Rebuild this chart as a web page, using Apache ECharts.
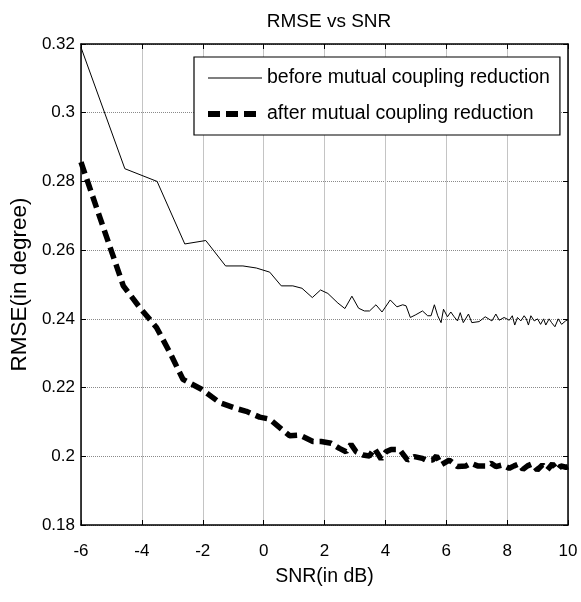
<!DOCTYPE html>
<html>
<head>
<meta charset="utf-8">
<script src="https://cdn.jsdelivr.net/npm/echarts@6/dist/echarts.min.js"></script>
<style>
html,body{margin:0;padding:0;background:#fff;}
#chart{width:581px;height:602px;}
</style>
</head>
<body>
<div id="chart"></div>
<script>
var titleText = 'RMSE vs SNR';
var xName = 'SNR(in dB)';
var yName = 'RMSE(in degree)';
var seriesNames = ['before mutual coupling reduction', 'after mutual coupling reduction'];

var beforeX = [-6, -4.56, -3.5, -2.59, -1.9, -1.25, -0.68, -0.24, 0.2, 0.58, 0.96, 1.26, 1.6, 1.87, 2.11, 2.44, 2.67, 2.9, 3.12, 3.31, 3.48, 3.69, 3.89, 4.16, 4.38, 4.57, 4.68, 4.82, 5.0, 5.22, 5.39, 5.5, 5.61, 5.72, 5.83, 5.91, 6.04, 6.15, 6.26, 6.37, 6.46, 6.56, 6.73, 6.84, 7.08, 7.28, 7.5, 7.63, 7.74, 7.9, 8.07, 8.17, 8.25, 8.34, 8.45, 8.56, 8.63, 8.7, 8.78, 8.89, 9.0, 9.1, 9.2, 9.27, 9.38, 9.46, 9.57, 9.68, 9.79, 9.92, 10];
var beforeY = [0.319, 0.2837, 0.280, 0.2618, 0.2628, 0.2554, 0.2554, 0.2548, 0.2536, 0.2496, 0.2496, 0.2489, 0.2462, 0.2484, 0.2474, 0.2446, 0.243, 0.2466, 0.2431, 0.2423, 0.2423, 0.2441, 0.242, 0.2455, 0.2435, 0.2441, 0.2438, 0.2404, 0.2412, 0.2423, 0.2409, 0.2409, 0.2441, 0.2409, 0.2389, 0.2428, 0.2406, 0.242, 0.2406, 0.2394, 0.2418, 0.2389, 0.2414, 0.2389, 0.2392, 0.2406, 0.2394, 0.2414, 0.2396, 0.2404, 0.2396, 0.2409, 0.2382, 0.2404, 0.2394, 0.2409, 0.24, 0.2382, 0.2409, 0.2394, 0.24, 0.2384, 0.24, 0.2382, 0.24, 0.2389, 0.2377, 0.24, 0.2384, 0.2394, 0.2398];

var afterX = [-6, -4.61, -4.07, -3.52, -3.08, -2.65, -2.04, -1.44, -0.9, -0.57, -0.13, 0.2, 0.85, 1.18, 1.62, 1.89, 2.22, 2.49, 2.71, 2.87, 3.04, 3.26, 3.48, 3.64, 3.86, 4.02, 4.19, 4.46, 4.73, 4.95, 5.22, 5.33, 5.55, 5.68, 5.83, 6.1, 6.37, 6.65, 6.81, 7.03, 7.3, 7.47, 7.63, 7.85, 8.07, 8.23, 8.39, 8.52, 8.67, 8.83, 8.99, 9.16, 9.32, 9.49, 9.65, 9.76, 9.93, 10];
var afterY = [0.2856, 0.2496, 0.2433, 0.2375, 0.2302, 0.2224, 0.2195, 0.2156, 0.2139, 0.2131, 0.2114, 0.2108, 0.206, 0.2062, 0.2043, 0.2043, 0.2038, 0.2023, 0.2013, 0.2035, 0.2013, 0.2004, 0.2001, 0.2023, 0.1992, 0.2013, 0.202, 0.202, 0.1989, 0.1999, 0.1994, 0.1989, 0.1989, 0.2001, 0.1975, 0.1989, 0.197, 0.1972, 0.198, 0.1972, 0.1972, 0.198, 0.197, 0.1975, 0.1965, 0.1972, 0.1978, 0.1962, 0.1972, 0.1978, 0.196, 0.1975, 0.196, 0.1978, 0.196, 0.1972, 0.1968, 0.197];

var xTicks = {min: -6, max: 10, interval: 2};
var yTicks = {min: 0.18, max: 0.32, interval: 0.02};

function zip(xs, ys) { return xs.map(function (x, i) { return [x, ys[i]]; }); }

var FONT = 'Liberation Sans, Arial, sans-serif';
var chart = echarts.init(document.getElementById('chart'), null, {renderer: 'canvas'});

var baseAxisLine = {show: true, onZero: false, lineStyle: {color: '#000', width: 1.5}};
var baseTick = {show: true, inside: true, length: 5, lineStyle: {color: '#000', width: 1}};
var thickDash = [12, 6];

chart.setOption({
  animation: false,
  backgroundColor: '#fff',
  title: {
    text: titleText, left: 324, top: 7, textAlign: 'center',
    textStyle: {fontFamily: FONT, fontSize: 19, fontWeight: 'normal', color: '#000'}
  },
  legend: {
    left: 194, top: 57, orient: 'vertical',
    padding: [11, 10, 11, 11], itemGap: 16, itemWidth: 54, itemHeight: 16,
    backgroundColor: '#fff', borderColor: '#000', borderWidth: 1.2, borderRadius: 0,
    textStyle: {fontFamily: FONT, fontSize: 19.5, color: '#000'},
    itemStyle: {opacity: 0, borderWidth: 0},
    data: [
      {name: seriesNames[0], itemStyle: {opacity: 0, borderWidth: 0}, lineStyle: {width: 1.2, color: '#000'}},
      {name: seriesNames[1], itemStyle: {opacity: 0, borderWidth: 0}, lineStyle: {width: 6, color: '#000', type: thickDash}}
    ]
  },
  grid: {left: 81, right: 13, top: 44, bottom: 77, containLabel: false},
  xAxis: [{
    type: 'value', min: xTicks.min, max: xTicks.max, interval: xTicks.interval,
    position: 'bottom',
    name: xName, nameLocation: 'middle', nameGap: 42,
    nameTextStyle: {fontFamily: FONT, fontSize: 19.5, color: '#000'},
    axisLine: baseAxisLine, axisTick: baseTick,
    axisLabel: {fontFamily: FONT, fontSize: 17, color: '#000', margin: 18},
    splitLine: {show: true, lineStyle: {color: '#c4c4c4', width: 1, type: 'solid'}}
  }, {
    type: 'value', min: xTicks.min, max: xTicks.max, interval: xTicks.interval,
    position: 'top', axisLine: baseAxisLine, axisTick: baseTick,
    axisLabel: {show: false}, splitLine: {show: false}
  }],
  yAxis: [{
    type: 'value', min: yTicks.min, max: yTicks.max, interval: yTicks.interval,
    position: 'left',
    name: yName, nameLocation: 'middle', nameGap: 40,
    nameTextStyle: {fontFamily: FONT, fontSize: 22.5, color: '#000'},
    axisLine: baseAxisLine, axisTick: baseTick,
    axisLabel: {fontFamily: FONT, fontSize: 17, color: '#000', margin: 6,
      formatter: function (v) { return String(+v.toFixed(2)); }},
    splitLine: {show: true, lineStyle: {color: '#8a8a8a', width: 1, type: [1, 1]}}
  }, {
    type: 'value', min: yTicks.min, max: yTicks.max, interval: yTicks.interval,
    position: 'right', axisLine: baseAxisLine, axisTick: baseTick,
    axisLabel: {show: false}, splitLine: {show: false}
  }],
  series: [{
    name: seriesNames[0], type: 'line', xAxisIndex: 0, yAxisIndex: 0,
    data: zip(beforeX, beforeY), showSymbol: false, symbol: 'none',
    lineStyle: {color: '#000', width: 1}, itemStyle: {color: '#000'}, z: 3
  }, {
    name: seriesNames[1], type: 'line', xAxisIndex: 0, yAxisIndex: 0,
    data: zip(afterX, afterY), showSymbol: false, symbol: 'none',
    lineStyle: {color: '#000', width: 5.5, type: thickDash}, itemStyle: {color: '#000'}, z: 3
  }]
});
</script>
</body>
</html>
